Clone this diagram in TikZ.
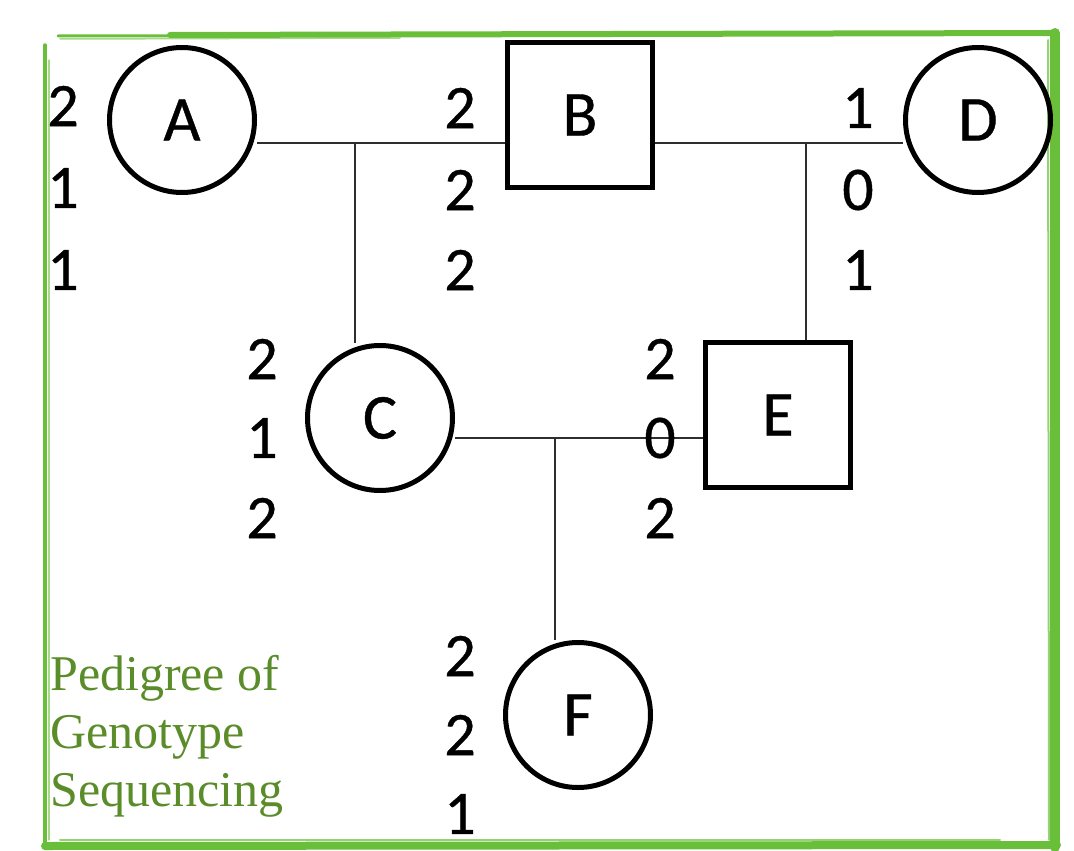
\documentclass[tikz,border=0pt]{standalone}
\usepackage{fontspec}
\setmainfont{Carlito}[FakeBold=0.6,AutoFakeBold=0.6]
\newfontfamily\capfont{Liberation Serif}
\definecolor{bordergreen}{HTML}{6ABF3A}
\definecolor{textgreen}{HTML}{5B8C2A}
\definecolor{linkgray}{HTML}{2E2E2E}
\begin{document}
\begin{tikzpicture}[x=1pt,y=-1pt,
  person/.style={draw=black,line width=5pt,circle,minimum size=145pt,inner sep=0pt,font=\fontsize{64}{70}\selectfont},
  male/.style={draw=black,line width=5pt,rectangle,minimum size=145pt,inner sep=0pt,font=\fontsize{64}{70}\selectfont},
  geno/.style={inner sep=0pt,font=\fontsize{62}{70}\selectfont},
  link/.style={draw=linkgray,line width=2.7pt},
  rim/.style={draw=bordergreen,line cap=round}]
\useasboundingbox (0,0) rectangle (1074,851);
% sketchy green border
\draw[rim,line width=6pt] (170,35) -- (1055,33);
\draw[rim,line width=3pt] (58,36) -- (600,35);
\draw[rim,line width=1.5pt,opacity=.6] (60,39) -- (400,38);
\draw[rim,line width=3.5pt] (45,45) -- (45,848);
\draw[rim,line width=1.2pt,opacity=.6] (49,60) -- (49,840);
\draw[rim,line width=8pt] (45,846) -- (1057,845);
\draw[rim,line width=2pt,opacity=.7] (60,840) -- (1000,840);
\draw[rim,line width=10pt] (1055,33) -- (1055,847);
\draw[rim,line width=2pt,opacity=.7] (1048,40) -- (1049,840);
% people
\node[person] (A) at (182,120) {A};
\node[male]   (B) at (580,115) {B};
\node[person] (D) at (978,120) {D};
\node[person] (C) at (380,418) {C};
\node[male]   (E) at (778,415) {E};
\node[person] (F) at (578,715) {F};
% junctions
\coordinate (jAB) at (355,143);
\coordinate (jBD) at (806,143);
\coordinate (jCE) at (555,438);
\draw[link] (A.east |- jAB) -- (B.west |- jAB);
\draw[link] (jAB) -- (C.north -| jAB);
\draw[link] (B.east |- jBD) -- (D.west |- jBD);
\draw[link] (jBD) -- (E.north -| jBD);
\draw[link] (C.east |- jCE) -- (E.west |- jCE);
\draw[link] (jCE) -- (F.north -| jCE);
% genotype numbers
\node[geno] (a1) at (63,106) {2};
\node[geno] (a2) at (63,188) {1};
\node[geno] (a3) at (63,270) {1};
\node[geno] (b1) at (460,108) {2};
\node[geno] (b2) at (460,190) {2};
\node[geno] (b3) at (460,270) {2};
\node[geno] (d1) at (858,108) {1};
\node[geno] (d2) at (858,190) {0};
\node[geno] (d3) at (858,270) {1};
\node[geno] (c1) at (262,359) {2};
\node[geno] (c2) at (262,438) {1};
\node[geno] (c3) at (262,518) {2};
\node[geno] (e1) at (660,359) {2};
\node[geno] (e2) at (660,438) {0};
\node[geno] (e3) at (660,518) {2};
\node[geno] (f1) at (460,656) {2};
\node[geno] (f2) at (460,735) {2};
\node[geno] (f3) at (460,814) {1};
% caption
\node[anchor=north west,inner sep=0pt,align=left,text=textgreen,
  font=\capfont\fontsize{50}{58}\selectfont] (cap) at (50,655)
  {Pedigree of\\Genotype\\Sequencing};
\end{tikzpicture}
\end{document}
